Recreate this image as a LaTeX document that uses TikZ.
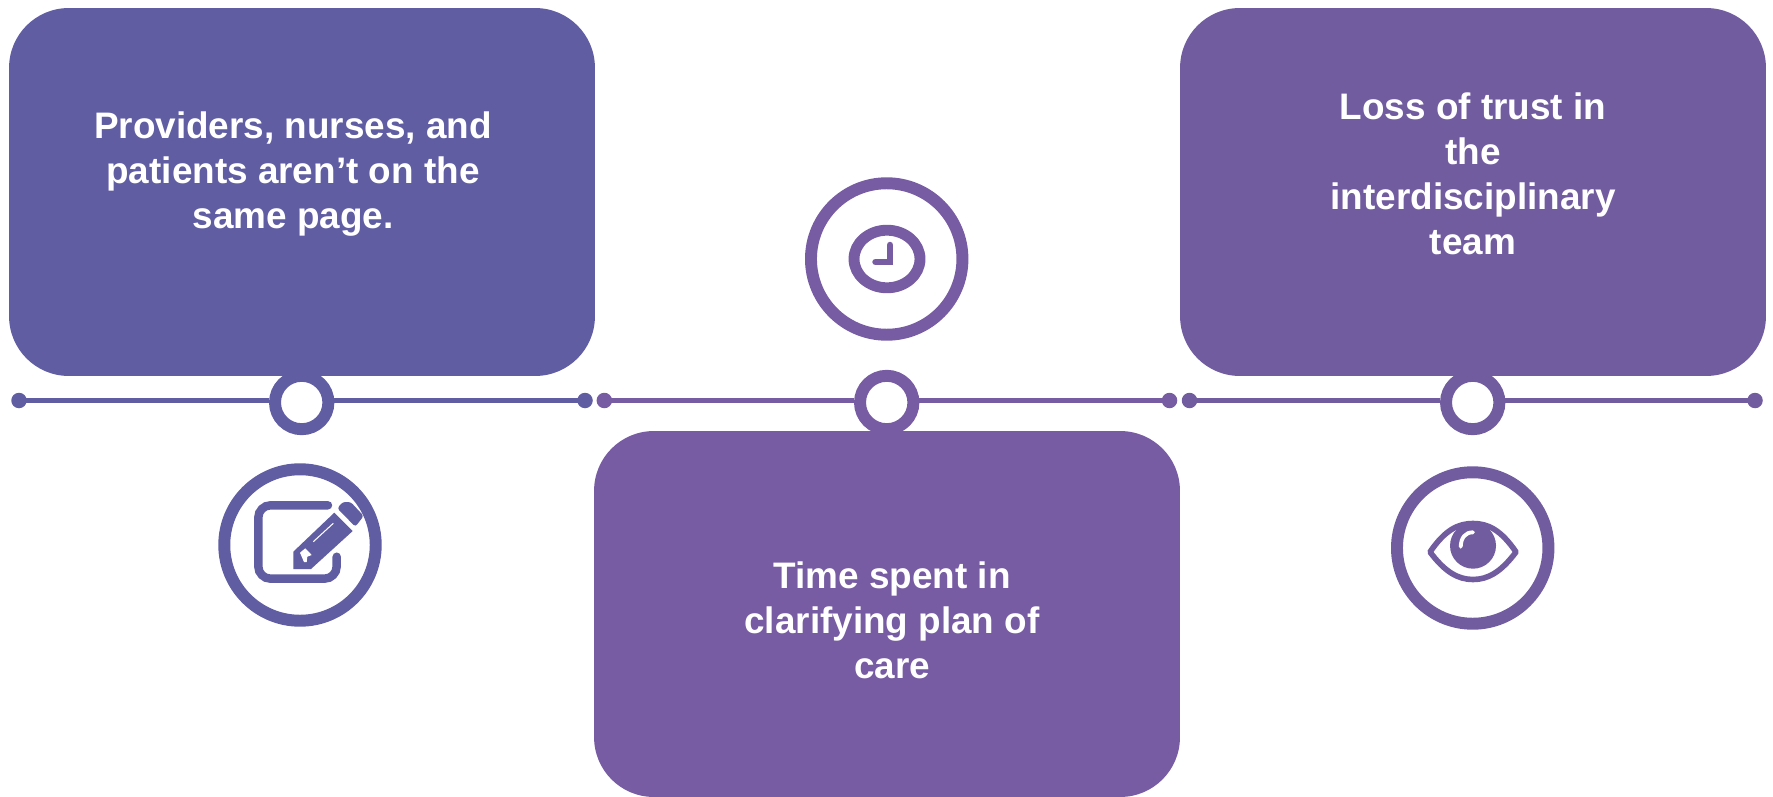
\documentclass[tikz,border=0pt]{standalone}
\usepackage{fontspec}
\setmainfont{Liberation Sans}
\usetikzlibrary{shapes.geometric}
\definecolor{stepblue}{RGB}{96,93,163}
\definecolor{stepviolet}{RGB}{120,92,163}
\definecolor{stepplum}{RGB}{114,92,160}
\tikzset{
  gbox/.style ={rectangle, rounded corners=34pt, minimum width=11.72cm, minimum height=7.36cm, inner sep=0pt},
  gtext/.style={align=center, text=white, inner sep=0pt, font=\fontsize{21}{25.6}\selectfont\bfseries},
  gring/.style={circle, fill=white, line width=6.8pt, minimum size=1.068cm, inner sep=0pt},
  gicon/.style={circle, fill=white, line width=6.8pt, minimum size=3.03cm, inner sep=0pt},
  gdot/.style ={circle, minimum size=0.31cm, inner sep=0pt},
  gline/.style={line width=2.4pt},
  gglyph/.style={line width=4.8pt, line cap=round, rounded corners=7pt},
}

\begin{document}
\begin{tikzpicture}[x=0.02cm, y=-0.02cm]
  \useasboundingbox (0,0) rectangle (1773,797);

  % timeline
  \node[gring, draw=stepblue]   (ringA) at (301.7,402.5) {};
  \node[gring, draw=stepviolet] (ringB) at (886.7,402.5) {};
  \node[gring, draw=stepplum]   (ringC) at (1472.7,402.5) {};
  \node[gdot, fill=stepblue]   (dotAl) at (19,400.5) {};
  \node[gdot, fill=stepblue]   (dotAr) at (585,400.5) {};
  \node[gdot, fill=stepviolet] (dotBl) at (604.3,400.5) {};
  \node[gdot, fill=stepviolet] (dotBr) at (1169.5,400.5) {};
  \node[gdot, fill=stepplum]   (dotCl) at (1189.5,400.5) {};
  \node[gdot, fill=stepplum]   (dotCr) at (1755,400.5) {};
  \draw[gline, stepblue]   (dotAl.center) -- (dotAl.center -| ringA.west);
  \draw[gline, stepblue]   (dotAr.center) -- (dotAr.center -| ringA.east);
  \draw[gline, stepviolet] (dotBl.center) -- (dotBl.center -| ringB.west);
  \draw[gline, stepviolet] (dotBr.center) -- (dotBr.center -| ringB.east);
  \draw[gline, stepplum]   (dotCl.center) -- (dotCl.center -| ringC.west);
  \draw[gline, stepplum]   (dotCr.center) -- (dotCr.center -| ringC.east);

  % boxes
  \node[gbox, fill=stepblue]   (boxA) at (302,192) {};
  \node[gbox, fill=stepviolet, minimum height=7.32cm] (boxB) at (887,614) {};
  \node[gbox, fill=stepplum]   (boxC) at (1473,192) {};
  \node[gtext] (textA) at (293,174.5) {Providers, nurses, and\\patients aren’t on the\\same page.};
  \node[gtext] (textB) at (892,620) {Time spent in\\clarifying plan of\\care};
  \node[gtext] (textC) at (1473,173.5) {Loss of trust in\\the\\interdisciplinary\\team};

  % icon rings
  \node[gicon, draw=stepblue]   (iconA) at (300,545) {};
  \node[gicon, draw=stepviolet] (iconB) at (886.7,259) {};
  \node[gicon, draw=stepplum]   (iconC) at (1472.7,548) {};

  % pencil
  \draw[gglyph, stepblue] (328,505.3) -- (258.3,505.3) -- (258.3,578.7) -- (336.7,578.7) -- (336.7,556.7);
  \fill[stepblue] (293.3,551.7) -- (334.3,512.7) -- (352.7,531) -- (311,569) -- (293.3,569) -- cycle;
  \fill[stepblue, rounded corners=1.5pt] (337.3,508.3) -- (342.7,502) -- (350.7,502) -- (363.7,516) -- (355.3,526.7) -- cycle;
  \fill[white] (300,552.7) -- (305.3,548.3) -- (311.7,555) -- (307.3,556.7) -- (306.7,562) -- (304,562) -- (301.7,556.7) -- cycle;
  \draw[white, line width=0.6pt] (313.3,541.7) -- (333.3,523.3);

  % clock
  \node[ellipse, draw=stepviolet, line width=6.2pt, minimum width=1.32cm, minimum height=1.152cm, inner sep=0pt] (clockface) at (887,259) {};
  \draw[stepviolet, line width=3.7pt, line cap=round] (890,245) -- (890,262) -- (875.5,262);

  % eye
  \draw[stepplum, line width=3.2pt, line join=round] (1430,552) .. controls (1445,530) and (1458,523.5) .. (1473,523.5) .. controls (1488,523.5) and (1501,530) .. (1516,552) .. controls (1501,572) and (1488,579.5) .. (1473,579.5) .. controls (1458,579.5) and (1445,572) .. (1430,552) -- cycle;
  \node[circle, fill=stepplum, minimum size=0.92cm, inner sep=0pt] (iris) at (1473,545.7) {};
  \draw[white, line width=2.2pt, line cap=round] (1473,532.3) .. controls (1465,532.3) and (1461,538) .. (1460.7,546.7);
\end{tikzpicture}
\end{document}
